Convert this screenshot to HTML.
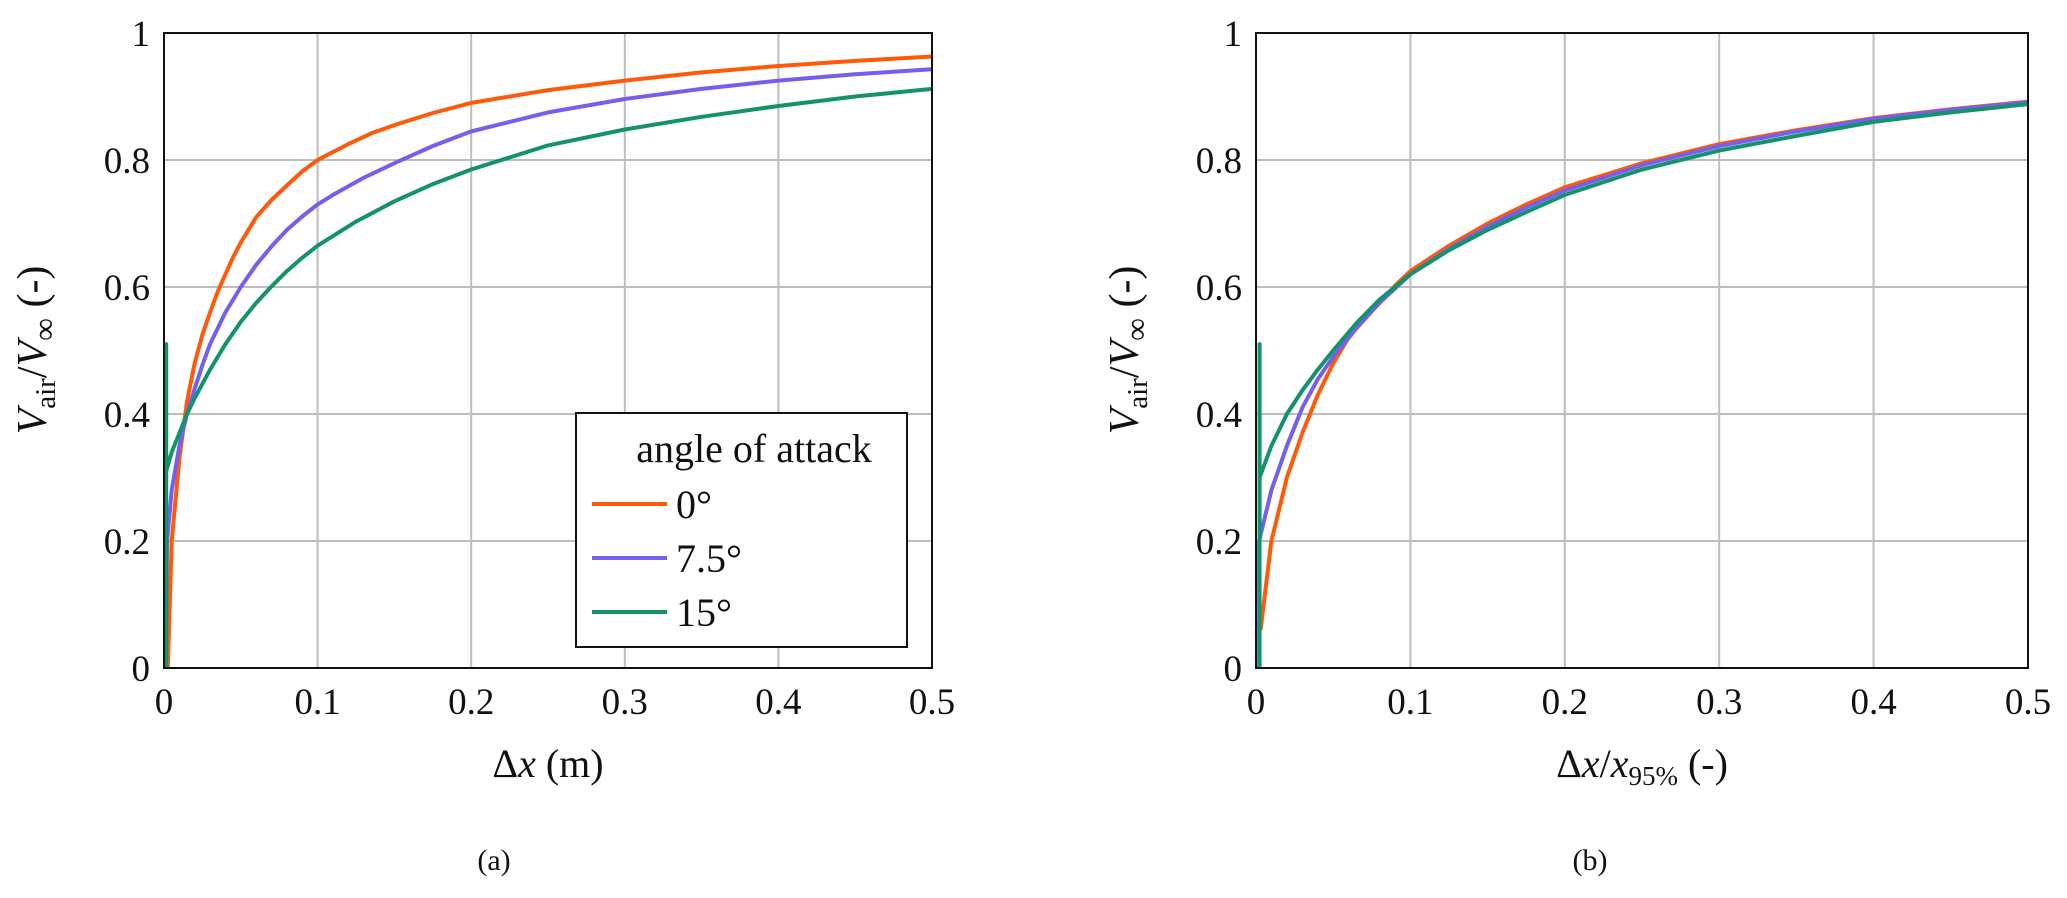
<!DOCTYPE html>
<html><head><meta charset="utf-8">
<style>
html,body{margin:0;padding:0;background:#fff;}
svg{display:block;font-family:"Liberation Serif",serif;}
</style></head>
<body>
<svg id="fig" width="2067" height="898" viewBox="0 0 2067 898" xmlns="http://www.w3.org/2000/svg">
  <g id="panelA"></g>
  <g id="panelB"></g>
</svg>
<script>
const NS = "http://www.w3.org/2000/svg";
const xTicks = [0, 0.1, 0.2, 0.3, 0.4, 0.5];
const xTickLabels = ["0", "0.1", "0.2", "0.3", "0.4", "0.5"];
const yTicks = [0, 0.2, 0.4, 0.6, 0.8, 1];
const yTickLabels = ["0", "0.2", "0.4", "0.6", "0.8", "1"];
const seriesNames = ["0°", "7.5°", "15°"];
const seriesColors = ["#ff5a0a", "#7360ee", "#14926c"];

// Panel (a)
const aX0 = [0.0025,0.005,0.01,0.015,0.02,0.025,0.03,0.035,0.04,0.045,0.05,0.06,0.07,0.08,0.09,0.1,0.12,0.135,0.15,0.175,0.2,0.25,0.3,0.35,0.4,0.45,0.5];
const aY0 = [0,0.2,0.33,0.42,0.48,0.525,0.56,0.593,0.62,0.647,0.67,0.71,0.737,0.76,0.782,0.80,0.825,0.842,0.855,0.874,0.89,0.91,0.925,0.938,0.948,0.956,0.963];
const aX1 = [0.0015,0.002,0.005,0.01,0.015,0.02,0.025,0.03,0.04,0.05,0.06,0.07,0.08,0.09,0.1,0.11,0.13,0.15,0.175,0.2,0.25,0.3,0.35,0.4,0.45,0.5];
const aY1 = [0.08,0.2,0.28,0.35,0.40,0.44,0.477,0.51,0.56,0.60,0.635,0.664,0.69,0.711,0.73,0.745,0.772,0.795,0.822,0.845,0.875,0.896,0.912,0.925,0.935,0.943];
const aX2 = [0.0014,0.0014,0.0014,0.005,0.01,0.015,0.02,0.03,0.04,0.05,0.06,0.07,0.08,0.09,0.1,0.125,0.15,0.175,0.2,0.25,0.3,0.35,0.4,0.45,0.5];
const aY2 = [0,0.51,0.31,0.34,0.37,0.40,0.425,0.47,0.51,0.545,0.575,0.601,0.625,0.646,0.665,0.703,0.735,0.762,0.785,0.823,0.848,0.868,0.885,0.9,0.912];

// Panel (b)
const bX0 = [0.003,0.01,0.02,0.03,0.04,0.05,0.06,0.07,0.08,0.09,0.1,0.125,0.15,0.175,0.2,0.25,0.3,0.35,0.4,0.45,0.5];
const bY0 = [0.06,0.2,0.3,0.37,0.43,0.48,0.52,0.55,0.575,0.602,0.625,0.665,0.70,0.73,0.757,0.795,0.825,0.847,0.866,0.88,0.892];
const bX1 = [0.002,0.002,0.01,0.02,0.03,0.04,0.05,0.065,0.08,0.1,0.125,0.15,0.175,0.2,0.25,0.3,0.35,0.4,0.45,0.5];
const bY1 = [0.0,0.2,0.28,0.35,0.41,0.455,0.49,0.535,0.575,0.62,0.66,0.695,0.725,0.752,0.792,0.822,0.845,0.865,0.879,0.891];
const bX2 = [0.0023,0.0023,0.0023,0.01,0.02,0.03,0.04,0.05,0.065,0.08,0.1,0.125,0.15,0.175,0.2,0.25,0.3,0.35,0.4,0.45,0.5];
const bY2 = [0,0.51,0.30,0.35,0.40,0.437,0.47,0.50,0.543,0.58,0.62,0.658,0.69,0.718,0.745,0.785,0.815,0.838,0.86,0.875,0.888];

function mk(tag, attrs, parent){
  const e = document.createElementNS(NS, tag);
  for (const k in attrs) e.setAttribute(k, attrs[k]);
  parent.appendChild(e);
  return e;
}

function drawPanel(g, L, R, T, B, xs, ys, opts){
  const sx = v => L + (v - 0) / 0.5 * (R - L);
  const sy = v => B - v * (B - T);
  xTicks.forEach((t,i)=>{
    if (i===0||i===xTicks.length-1) return;
    const l = mk("line",{x1:sx(t),x2:sx(t),y1:T,y2:B,stroke:"#bdbdbd","stroke-width":2},g);
    
    
  });
  yTicks.forEach((t,i)=>{
    if (i===0||i===yTicks.length-1) return;
    const l = mk("line",{x1:L,x2:R,y1:sy(t),y2:sy(t),stroke:"#bdbdbd","stroke-width":2},g);
    
    
  });
  for (let s=0;s<3;s++){
    const pts = xs[s].map((x,i)=>sx(x).toFixed(1)+","+sy(ys[s][i]).toFixed(1)).join(" ");
    const p = mk("polyline",{points:pts,fill:"none",stroke:seriesColors[s],"stroke-width":4,"stroke-linejoin":"round"},g);
    
    
  }
  const fr = mk("rect",{x:L,y:T,width:R-L,height:B-T,fill:"none",stroke:"#111","stroke-width":2},g);
  
  
  xTicks.forEach((t,i)=>{
    const tx = mk("text",{x:sx(t),y:B+46,"text-anchor":"middle","font-size":37,fill:"#111"},g);
    tx.textContent = xTickLabels[i];
    
    
  });
  yTicks.forEach((t,i)=>{
    const tx = mk("text",{x:L-14,y:sy(t)+13,"text-anchor":"end","font-size":37,fill:"#111"},g);
    tx.textContent = yTickLabels[i];
    
    
  });
  const yl = mk("text",{transform:`translate(${opts.ylx},350) rotate(-90)`,"text-anchor":"middle","font-size":42,fill:"#111"},g);
  
  
  yl.innerHTML = '<tspan font-style="italic">V</tspan><tspan font-size="29" dy="9">air</tspan><tspan dy="-9">/</tspan><tspan font-style="italic">V</tspan><tspan font-size="32" dy="9">∞</tspan><tspan dy="-9"> (-)</tspan>';
  const xl = mk("text",{x:(L+R)/2,y:777,"text-anchor":"middle","font-size":40,fill:"#111"},g);
  
  
  xl.innerHTML = opts.xlab;
  const cp = mk("text",{x:opts.capx,y:870,"text-anchor":"middle","font-size":30,fill:"#111"},g);
  cp.textContent = opts.cap;
  
  
}

drawPanel(document.getElementById("panelA"),164,932,33,668,[aX0,aX1,aX2],[aY0,aY1,aY2],
  {ylx:46, xlab:'Δ<tspan font-style="italic">x</tspan> (m)', cap:"(a)", capx:494});
drawPanel(document.getElementById("panelB"),1256,2028,33,668,[bX0,bX1,bX2],[bY0,bY1,bY2],
  {ylx:1138, xlab:'Δ<tspan font-style="italic">x</tspan>/<tspan font-style="italic">x</tspan><tspan font-size="27" dy="8">95%</tspan><tspan dy="-8"> (-)</tspan>', cap:"(b)", capx:1590});

const ga = document.getElementById("panelA");
const lg = mk("g",{},ga);


mk("rect",{x:576,y:413,width:331,height:234,fill:"#fff",stroke:"#111","stroke-width":2},lg);
const lt = mk("text",{x:754,y:462,"text-anchor":"middle","font-size":40,fill:"#111"},lg);
lt.textContent = "angle of attack";


seriesNames.forEach((n,i)=>{
  const y = 504 + i*54;
  const e = mk("g",{},lg);
  
  
  mk("line",{x1:592,x2:667,y1:y,y2:y,stroke:seriesColors[i],"stroke-width":4},e);
  const t = mk("text",{x:676,y:y+14,"font-size":40,fill:"#111"},e);
  t.textContent = n;
});
</script>
</body></html>
